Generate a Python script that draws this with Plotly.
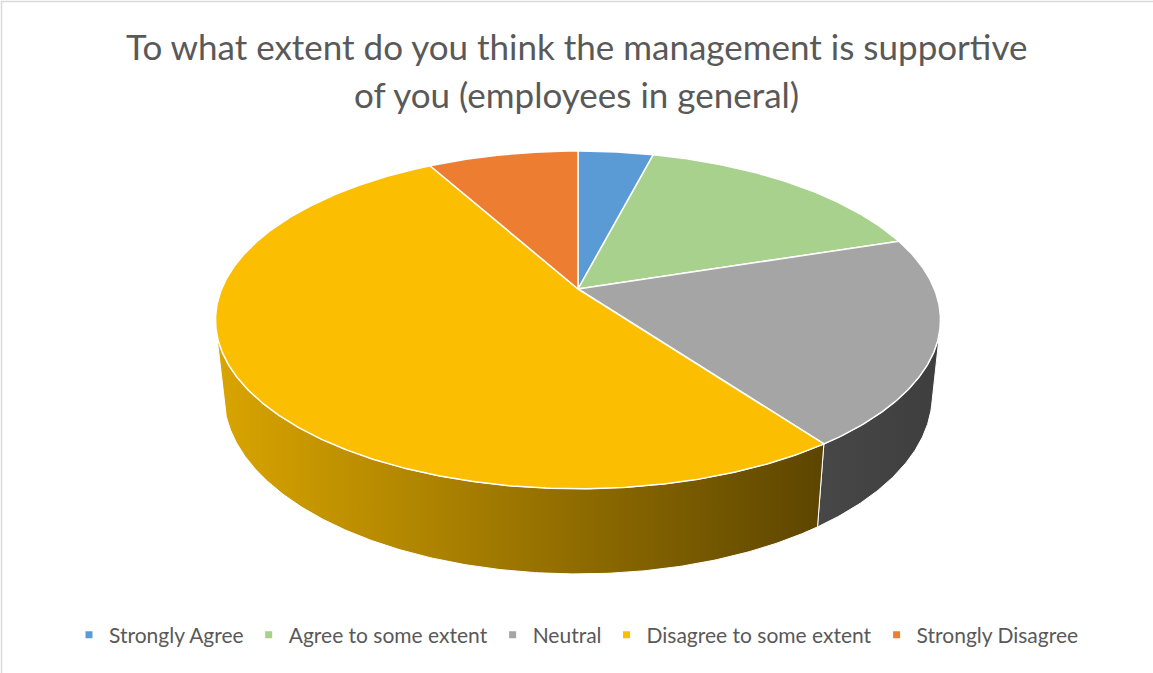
import numpy as np
import plotly.graph_objects as go

# Survey answers: "To what extent do you think the management is supportive of you"
categories = [
    "Strongly Agree",
    "Agree to some extent",
    "Neutral",
    "Disagree to some extent",
    "Strongly Disagree",
]
responses = [1, 4, 5, 13, 2]

title_lines = [
    "To what extent do you think the management is supportive",
    "of you (employees in general)",
]

# Slice colours (top face) and the horizontal shading used on the visible rim
top_colors = ["#5B9BD5", "#A9D18E", "#A5A5A5", "#FBBE00", "#EC7D31"]
rim_shades = [
    ("#40709C", "#2E5173"),
    ("#7C9A68", "#5B714C"),
    ("#474747", "#3E3E3E"),
    ("#DAA500", "#5C4500"),
    ("#B55F25", "#7A4019"),
]

# ---- 3D view of the pie (unit radius disc, seen from above and in front) ----
W, H = 1153, 673
CX, CY = 578.0, 289.0          # screen position of the pie centre
ELEV = np.arcsin(0.458)        # camera elevation
DIST = 4.86                    # camera distance in pie radii
FOCAL = 1732.0                 # projection scale (px)
THICK = 0.24                   # pie thickness in radii

cam_y = DIST * np.sin(ELEV)
cam_z = -DIST * np.cos(ELEV)


def project(px, py, pz):
    """Perspective projection of 3D points (x right, y up, z away) to screen px."""
    rx = np.asarray(px, float)
    ry = np.asarray(py, float) - cam_y
    rz = np.asarray(pz, float) - cam_z
    depth = -ry * np.sin(ELEV) + rz * np.cos(ELEV)
    upc = ry * np.cos(ELEV) + rz * np.sin(ELEV)
    return CX + FOCAL * rx / depth, CY - FOCAL * upc / depth


def rim(theta, height):
    theta = np.asarray(theta, float)
    return project(np.sin(theta), np.full_like(theta, height), np.cos(theta))


def arc(a0, a1):
    n = max(6, int(np.degrees(a1 - a0) * 2))
    return np.linspace(a0, a1, n)


total = float(sum(responses))
edges = 2 * np.pi * np.concatenate([[0.0], np.cumsum(responses) / total])

# rim facing the camera: outward normal points towards the eye
vis_lo = np.arccos(-1.0 / (DIST * np.cos(ELEV)))
vis_hi = 2 * np.pi - vis_lo

fig = go.Figure()

# visible outer walls
for i, cat in enumerate(categories):
    a0, a1 = max(edges[i], vis_lo), min(edges[i + 1], vis_hi)
    if a1 <= a0:
        continue
    t = arc(a0, a1)
    xt, yt = rim(t, 0.0)
    xb, yb = rim(t[::-1], -THICK)
    xs = np.concatenate([xt, xb, xt[:1]])
    ys = np.concatenate([yt, yb, yt[:1]])
    lo_x, hi_x = float(xs.min()), float(xs.max())
    fig.add_trace(go.Scatter(
        x=xs, y=ys, mode="lines", fill="toself",
        line=dict(color="white", width=1),
        fillgradient=dict(type="horizontal",
                          colorscale=[[0, rim_shades[i][0]], [1, rim_shades[i][1]]],
                          start=lo_x, stop=hi_x),
        hoverinfo="skip", showlegend=False,
    ))

# top faces
ox, oy = project(0.0, 0.0, 0.0)
for i, cat in enumerate(categories):
    t = arc(edges[i], edges[i + 1])
    xt, yt = rim(t, 0.0)
    xs = np.concatenate([[ox], xt, [ox]])
    ys = np.concatenate([[oy], yt, [oy]])
    fig.add_trace(go.Scatter(
        x=xs, y=ys, mode="lines", fill="toself",
        fillcolor=top_colors[i], line=dict(color="white", width=1.5),
        name=cat, hovertemplate=f"{cat}: {responses[i]}<extra></extra>",
        showlegend=False,
    ))

# legend entries
for i, cat in enumerate(categories):
    fig.add_trace(go.Scatter(
        x=[None], y=[None], mode="markers", name=cat,
        marker=dict(symbol="square", size=7, color=top_colors[i]),
    ))

title_font = dict(family="Lato", size=35, color="#595959")
annotations = [
    dict(text=line, xref="paper", yref="y", x=0.5, y=ypos,
         xanchor="center", yanchor="middle", showarrow=False, font=title_font)
    for line, ypos in zip(title_lines, [46, 94])
]

fig.update_layout(
    width=W, height=H, autosize=False,
    margin=dict(l=0, r=0, t=0, b=0),
    paper_bgcolor="white", plot_bgcolor="white",
    xaxis=dict(range=[0, W], visible=False, fixedrange=True),
    yaxis=dict(range=[H, 0], visible=False, fixedrange=True),
    annotations=annotations,
    legend=dict(
        orientation="h", x=0.5, xanchor="center", y=1 - 635 / H, yanchor="middle",
        font=dict(family="Lato", size=21, color="#595959"),
        itemclick=False, itemdoubleclick=False,
    ),
    shapes=[dict(type="rect", xref="x", yref="y", x0=1.5, y0=1.5, x1=W + 10, y1=H + 10,
                 line=dict(color="#D9D9D9", width=1.5), layer="below")],
)

fig.write_html("out.html")
